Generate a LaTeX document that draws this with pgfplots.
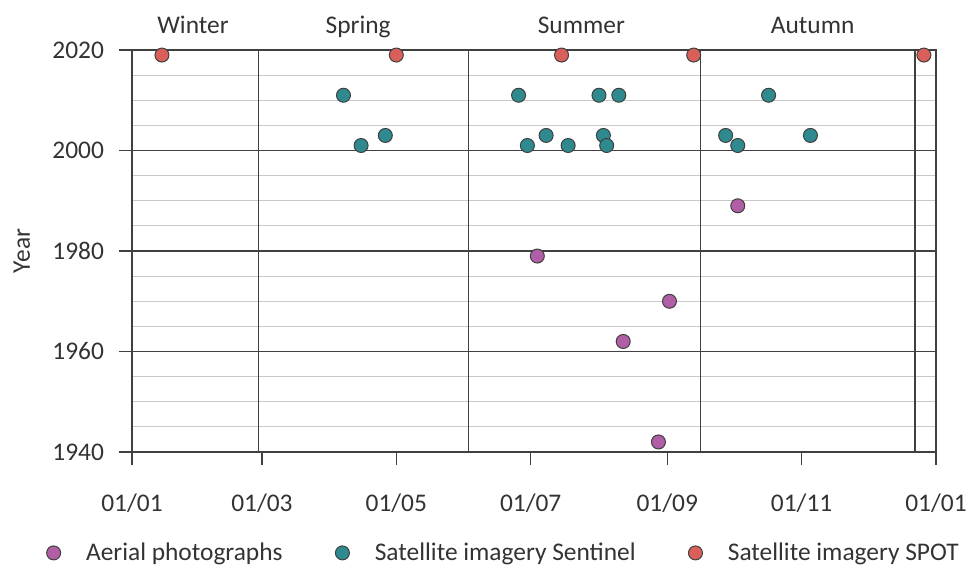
\documentclass[border=0pt]{standalone}
\usepackage{fontspec}
\setmainfont{Carlito}
\usepackage{pgfplots}
\pgfplotsset{compat=1.18}
\definecolor{aerial}{HTML}{B05EA5}
\definecolor{sentinel}{HTML}{2E8A8E}
\definecolor{spot}{HTML}{D9605A}
\definecolor{major}{HTML}{404040}
\definecolor{minorg}{HTML}{C8C8C8}
\definecolor{txt}{HTML}{333333}
\newcommand\cf{\fontsize{12.7pt}{15pt}\selectfont}
\begin{document}
\begin{tikzpicture}
\path[use as bounding box] (-66pt,-59pt) rectangle (418.5pt,226pt);
\begin{axis}[
  width=402pt, height=201pt, scale only axis,
  xmin=0, xmax=365, ymin=1940, ymax=2020,
  xtick={0,59,120,181,243,304,365},
  xticklabels={01/01,01/03,01/05,01/07,01/09,01/11,01/01},
  ytick={1940,1960,1980,2000,2020},
  minor ytick={1945,1950,1955,1965,1970,1975,1985,1990,1995,2005,2010,2015},
  ymajorgrids, yminorgrids,
  major grid style={major, line width=0.65pt},
  minor grid style={minorg, line width=0.6pt},
  axis line style={major, line width=0.65pt},
  tick style={major, line width=0.65pt},
  tick align=outside,
  major tick length=6.5pt,
  minor tick length=0pt,
  xtick pos=bottom, ytick pos=left,
  /pgf/number format/assume math mode=true,
  /pgf/number format/1000 sep={},
  tick label style={font=\cf, text=txt},
  xticklabel style={yshift=-11pt},
  yticklabel style={xshift=-4pt},
  ylabel={Year},
  ylabel style={font=\cf, text=txt, at={(axis description cs:-0.137,0.5)}, anchor=center},
  clip=false,
  legend columns=3,
  legend style={draw=none, fill=none, font=\cf, text=txt, at={(0.463,-0.251)}, anchor=center,
    /tikz/every even column/.append style={column sep=24pt}},
  legend image code/.code={\draw[#1] plot coordinates {(0pt,0pt)}; \path (-3.7pt,0pt) (14pt,0pt);},
]
\addplot[major, line width=0.65pt, mark=none, forget plot] coordinates {(57.3,1940) (57.3,2020)};
\addplot[major, line width=0.65pt, mark=none, forget plot] coordinates {(152.7,1940) (152.7,2020)};
\addplot[major, line width=0.65pt, mark=none, forget plot] coordinates {(258,1940) (258,2020)};
\addplot[major, line width=0.65pt, mark=none, forget plot] coordinates {(355.5,1940) (355.5,2020)};

\addplot[only marks, mark=*, mark size=3.5pt, mark options={fill=aerial, draw=major, line width=0.5pt}]
coordinates {(184,1979) (244,1970) (223,1962) (239,1942) (275,1989)};
\addlegendentry{Aerial photographs}

\addplot[only marks, mark=*, mark size=3.5pt, mark options={fill=sentinel, draw=major, line width=0.5pt}]
coordinates {(96,2011) (104,2001) (115,2003) (175.5,2011) (179.5,2001) (188,2003) (198,2001)
(212,2011) (221,2011) (214,2003) (215.5,2001) (289,2011) (269.5,2003) (275,2001) (308,2003)};
\addlegendentry{Satellite imagery Sentinel}

\addplot[only marks, mark=*, mark size=3.5pt, mark options={fill=spot, draw=major, line width=0.5pt}]
coordinates {(13.6,2019) (120,2019) (195,2019) (255,2019) (359.5,2019)};
\addlegendentry{Satellite imagery SPOT}

\node[font=\cf, text=txt, anchor=base, yshift=8.5pt] at (axis cs:27.7,2020) {Winter};
\node[font=\cf, text=txt, anchor=base, yshift=8.5pt] at (axis cs:102.7,2020) {Spring};
\node[font=\cf, text=txt, anchor=base, yshift=8.5pt] at (axis cs:204,2020) {Summer};
\node[font=\cf, text=txt, anchor=base, yshift=8.5pt] at (axis cs:309,2020) {Autumn};
\end{axis}
\end{tikzpicture}
\end{document}
